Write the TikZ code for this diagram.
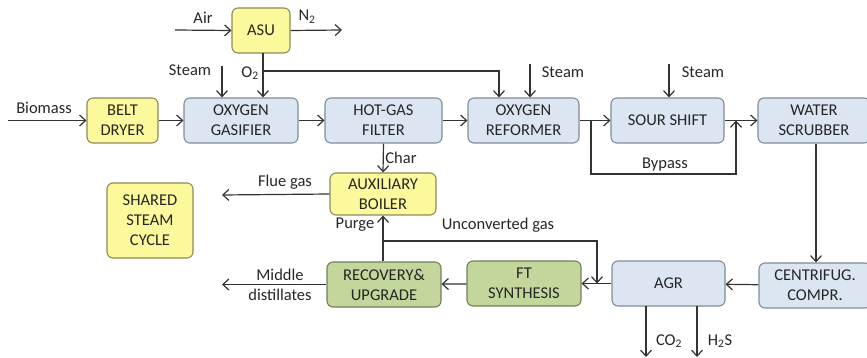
\documentclass[tikz,border=0pt]{standalone}
\usepackage{fontspec}
\setmainfont{Carlito}
\usetikzlibrary{arrows.meta}
\definecolor{yfill}{HTML}{FCF89C}
\definecolor{ydraw}{HTML}{8C8A5A}
\definecolor{bfill}{HTML}{DCE6F2}
\definecolor{bdraw}{HTML}{7F8C99}
\definecolor{gfill}{HTML}{C3D69B}
\definecolor{gdraw}{HTML}{6F7F5A}
\definecolor{linec}{HTML}{333333}
\begin{document}
\begin{tikzpicture}[x=1pt,y=-1pt,
  font=\fontsize{16.5}{20}\selectfont,
  unit/.style={draw, line width=1.1pt, rounded corners=6pt, align=center, inner sep=1pt, text=black!85},
  ybox/.style={unit, fill=yfill, draw=ydraw},
  bbox/.style={unit, fill=bfill, draw=bdraw},
  gbox/.style={unit, fill=gfill, draw=gdraw},
  flow/.style={draw=linec, line width=1.2pt, -{Straight Barb[length=6pt,width=11pt,line width=1.2pt]}},
  plain/.style={draw=linec, line width=1.2pt},
  lbl/.style={inner sep=1pt, text=black!85, align=center}]
\useasboundingbox (0,0) rectangle (867,358);
% nodes
\node[ybox, minimum width=58pt, minimum height=45pt] (asu) at (261,30.5) {ASU};
\node[ybox, minimum width=71pt, minimum height=45pt] (belt) at (122.5,120.5) {BELT\\DRYER};
\node[bbox, minimum width=114pt, minimum height=45pt] (gas) at (241,120.5) {OXYGEN\\GASIFIER};
\node[bbox, minimum width=117pt, minimum height=45pt] (filt) at (383.5,120.5) {HOT-GAS\\FILTER};
\node[bbox, minimum width=111pt, minimum height=45pt] (ref) at (523.5,120.5) {OXYGEN\\REFORMER};
\node[bbox, minimum width=113pt, minimum height=45pt] (shift) at (667.5,120.5) {SOUR SHIFT};
\node[bbox, minimum width=112pt, minimum height=45pt] (scrub) at (814,120.5) {WATER\\SCRUBBER};
\node[ybox, minimum width=106pt, minimum height=42pt] (aux) at (383,194) {AUXILIARY\\BOILER};
\node[ybox, minimum width=86pt, minimum height=75pt] (steam) at (150,220.5) {SHARED\\STEAM\\CYCLE};
\node[gbox, minimum width=114pt, minimum height=45pt] (rec) at (384,284.5) {RECOVERY\&\\UPGRADE};
\node[gbox, minimum width=114pt, minimum height=45pt] (ft) at (524,283.5) {FT\\SYNTHESIS};
\node[bbox, minimum width=113pt, minimum height=45pt] (agr) at (668.5,283.5) {AGR};
\node[bbox, minimum width=112pt, minimum height=45pt] (cen) at (815,285.5) {CENTRIFUG.\\COMPR.};
% free ends
\coordinate (airin) at (175,30);
\coordinate (n2out) at (342,30);
\coordinate (bioin) at (8,120.5);
\coordinate (stg) at (222,66);
\coordinate (o2a) at (263,53);
\coordinate (o2b) at (263,71);
\coordinate (o2c) at (499,71);
\coordinate (str) at (530,64);
\coordinate (sts) at (669,64);
\coordinate (bpa) at (591,120.5);
\coordinate (bpb) at (591,174);
\coordinate (bpc) at (736,174);
\coordinate (bpd) at (736,120.5);
\coordinate (ucb) at (383,241);
\coordinate (ucc) at (597,241);
\coordinate (ucd) at (597,283.5);
\coordinate (flue) at (222,195);
\coordinate (mid) at (222,284.5);
\coordinate (co2a) at (646,306);
\coordinate (co2b) at (646,357);
\coordinate (h2sa) at (697,306);
\coordinate (h2sb) at (697,357);
% connectors
\draw[flow] (airin) -- (asu.west);
\draw[flow] (asu.east) -- (n2out);
\draw[flow] (bioin) -- (belt.west);
\draw[flow] (stg) -- (stg |- gas.north);
\draw[flow] (o2a) -- (o2a |- gas.north);
\draw[flow] (o2b) -- (o2c) -- (o2c |- ref.north);
\draw[flow] (str) -- (str |- ref.north);
\draw[flow] (sts) -- (sts |- shift.north);
\draw[flow] (belt) -- (gas);
\draw[flow] (gas) -- (filt);
\draw[flow] (filt) -- (ref);
\draw[flow] (ref) -- (shift);
\draw[flow] (shift) -- (scrub);
\draw[flow] (bpa) -- (bpb) -- (bpc) -- (bpd);
\draw[flow] (filt.south) -- (aux.north);
\draw[flow] ([xshift=2pt]scrub.south) -- ([xshift=1pt]cen.north);
\draw[flow] (cen) -- (agr);
\draw[flow] (agr) -- (ft);
\draw[flow] (ft) -- (rec);
\draw[flow] ([xshift=-1pt]rec.north) -- ([xshift=0pt]aux.south);
\draw[flow] (ucb) -- (ucc) -- (ucd);
\draw[flow] (aux.west) -- (flue);
\draw[flow] (rec.west) -- (mid);
\draw[flow] (co2a) -- (co2b);
\draw[flow] (h2sa) -- (h2sb);
% labels
\node[lbl] (lair) at (203,18) {Air};
\node[lbl] (ln2) at (307,17) {N\textsubscript{2}};
\node[lbl] (lst1) at (190,70) {Steam};
\node[lbl] (lo2) at (250,73) {O\textsubscript{2}};
\node[lbl] (lbio) at (44,108) {Biomass};
\node[lbl] (lst2) at (563,72) {Steam};
\node[lbl] (lst3) at (703,72) {Steam};
\node[lbl] (lchar) at (401,158) {Char};
\node[lbl] (lbyp) at (665,165) {Bypass};
\node[lbl] (lflue) at (285,182) {Flue gas};
\node[lbl] (lpurge) at (355,225) {Purge};
\node[lbl] (lunc) at (498,225) {Unconverted gas};
\node[lbl] (lmid) at (280,284.5) {Middle\\distillates};
\node[lbl] (lco2) at (669,341) {CO\textsubscript{2}};
\node[lbl] (lh2s) at (720,341) {H\textsubscript{2}S};
\end{tikzpicture}
\end{document}
